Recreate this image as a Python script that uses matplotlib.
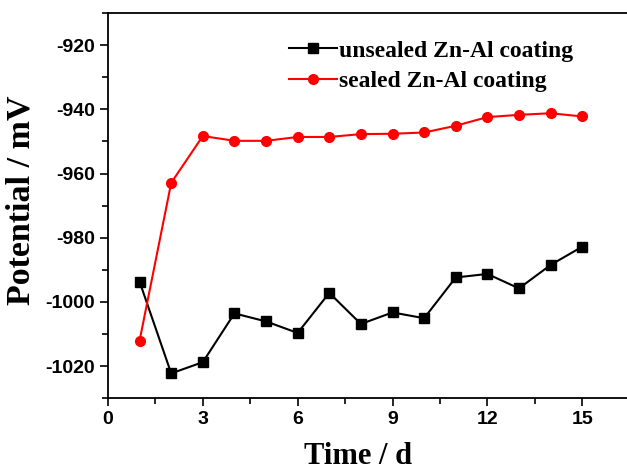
import matplotlib
matplotlib.use("Agg")
import matplotlib.pyplot as plt
from matplotlib.ticker import MultipleLocator

plt.rcParams["axes.unicode_minus"] = False

days = [1, 2, 3, 4, 5, 6, 7, 8, 9, 10, 11, 12, 13, 14, 15]
unsealed = [-993.7, -1022.3, -1018.8, -1003.6, -1006.1, -1009.7, -997.2, -1006.9,
            -1003.3, -1005.1, -992.4, -991.3, -995.8, -988.5, -982.8]
sealed = [-1012.1, -962.9, -948.3, -949.8, -949.8, -948.6, -948.6, -947.7,
          -947.6, -947.2, -945.1, -942.4, -941.7, -941.2, -942.2]
labels = ["unsealed Zn-Al coating", "sealed Zn-Al coating"]

fig = plt.figure(figsize=(6.27, 4.70), dpi=100)
ax = fig.add_axes([0.1722, 0.153, 0.832, 0.819])

ax.plot(days, unsealed, color="black", marker="s", markersize=6.5, lw=1.5, label=labels[0])
ax.plot(days, sealed, color="red", marker="o", markersize=7, lw=1.5, label=labels[1])

ax.set_xlim(0, 16.5)
ax.set_ylim(-1030, -910)
ax.xaxis.set_major_locator(MultipleLocator(3))
ax.xaxis.set_minor_locator(MultipleLocator(1.5))
ax.yaxis.set_major_locator(MultipleLocator(20))
ax.yaxis.set_minor_locator(MultipleLocator(10))
ax.tick_params(which="major", direction="out", length=6, width=1.2)
ax.tick_params(which="minor", direction="out", length=4, width=1.2)
for s in ax.spines.values():
    s.set_linewidth(1.3)

for lab in ax.get_xticklabels() + ax.get_yticklabels():
    lab.set_fontfamily("Liberation Sans")
    lab.set_fontweight("bold")
    lab.set_fontsize(14)

ax.set_xlabel("Time / d", fontfamily="Liberation Serif", fontweight="bold", fontsize=22, labelpad=10)
ax.set_ylabel("Potential / mV", fontfamily="Liberation Serif", fontweight="bold", fontsize=24.5, labelpad=6)
ax.xaxis.label.set_x(0.479)
ax.yaxis.label.set_y(0.514)

ax.legend(loc="upper left", bbox_to_anchor=(0.307, 0.985), frameon=False,
          prop={"family": "Liberation Serif", "weight": "bold", "size": 17},
          handlelength=2.0, handletextpad=0.12, labelspacing=0.38)

fig.savefig("out.png", dpi=100)
